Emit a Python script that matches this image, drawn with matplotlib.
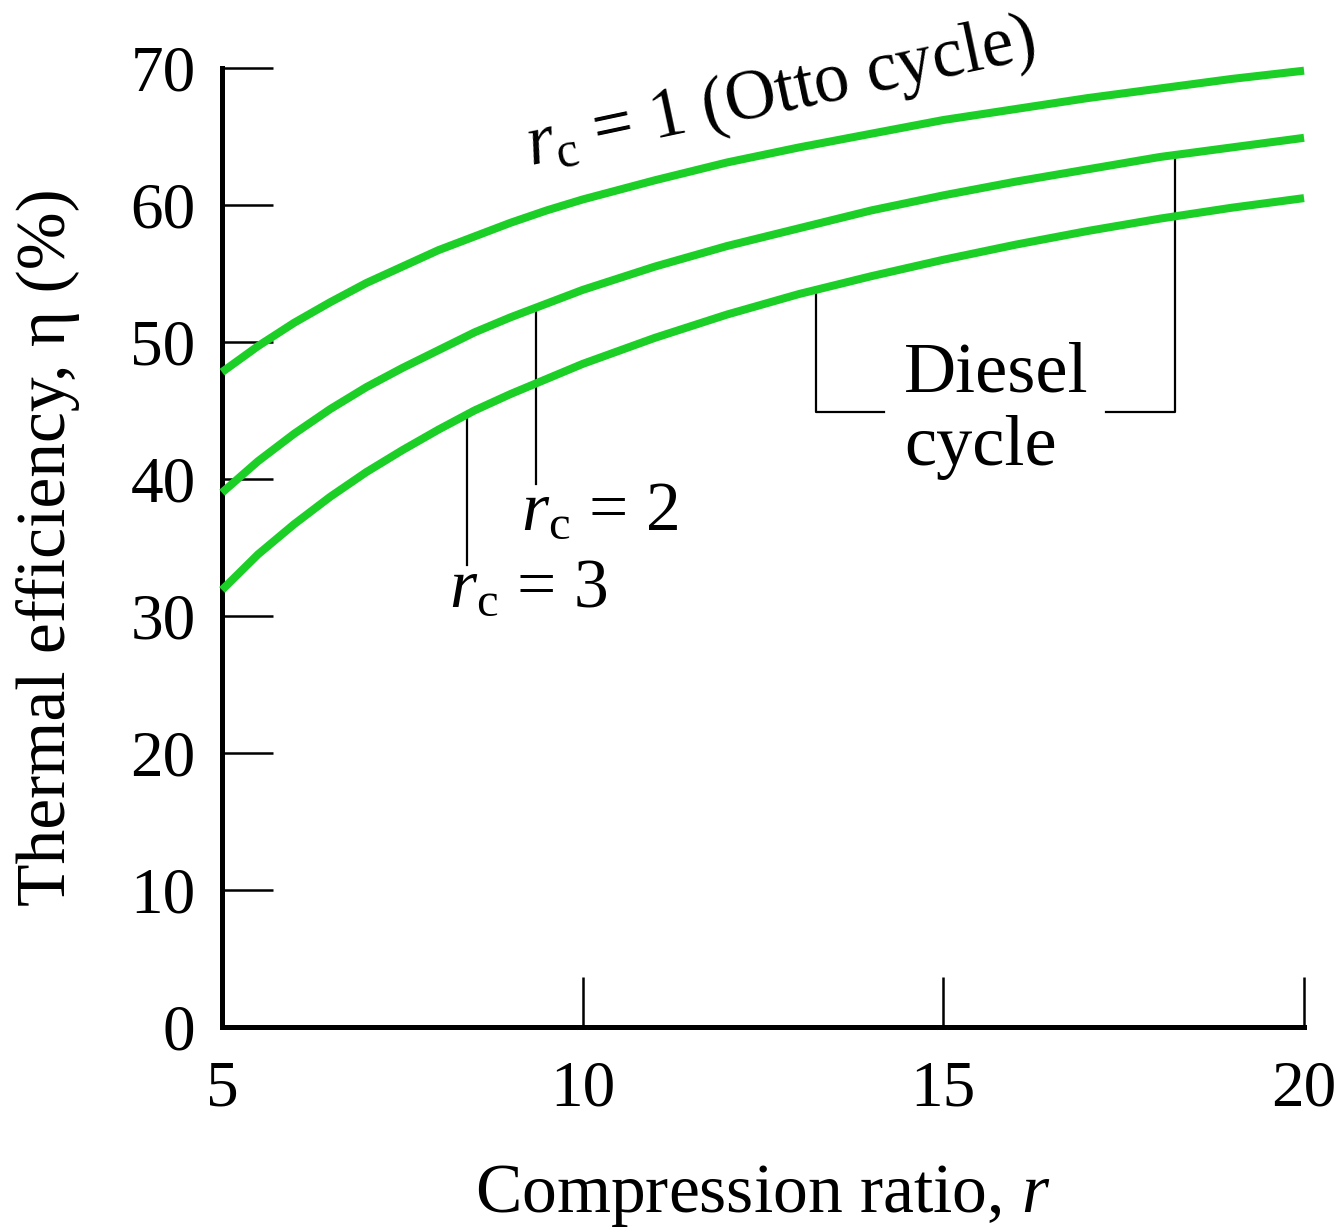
import matplotlib
matplotlib.use("Agg")
import matplotlib.pyplot as plt

plt.rcParams['font.family'] = ['Liberation Serif', 'DejaVu Serif']
plt.rcParams['mathtext.fontset'] = 'custom'
plt.rcParams['mathtext.rm'] = 'Liberation Serif'
plt.rcParams['mathtext.it'] = 'Liberation Serif:italic'

# Data
r = [5, 5.5, 6, 6.5, 7, 7.5, 8, 8.5, 9, 9.5, 10, 11, 12, 13, 14, 15, 16, 17, 18, 19, 20]
eta_otto = [47.8, 49.7, 51.4, 52.9, 54.3, 55.5, 56.7, 57.7, 58.7, 59.6, 60.4,
            61.8, 63.1, 64.2, 65.2, 66.2, 67.0, 67.8, 68.5, 69.2, 69.8]
eta_rc2 = [39.0, 41.3, 43.3, 45.1, 46.7, 48.1, 49.4, 50.7, 51.8, 52.8, 53.8,
           55.5, 57.0, 58.3, 59.6, 60.7, 61.7, 62.6, 63.5, 64.2, 64.9]
eta_rc3 = [31.9, 34.5, 36.7, 38.7, 40.5, 42.1, 43.6, 45.0, 46.2, 47.3, 48.4,
           50.3, 52.0, 53.5, 54.8, 56.0, 57.1, 58.1, 59.0, 59.8, 60.5]
xticks = [5, 10, 15, 20]
yticks = [0, 10, 20, 30, 40, 50, 60, 70]

green = '#1ccf27'

fig = plt.figure(figsize=(13.43, 12.31), dpi=100)
ax = fig.add_axes([0.1653, 0.1657, 0.971 - 0.1653, 0.9448 - 0.1657])

for ys in (eta_otto, eta_rc2, eta_rc3):
    ax.plot(r, ys, color=green, lw=5.8, solid_capstyle='butt', solid_joinstyle='round',
            clip_on=False, zorder=3)

ax.set_xlim(5, 20)
ax.set_ylim(0, 70)
ax.set_xticks(xticks)
ax.set_yticks(yticks)
ax.spines['top'].set_visible(False)
ax.spines['right'].set_visible(False)
ax.spines['left'].set_linewidth(3.6)
ax.spines['bottom'].set_linewidth(3.6)
ax.tick_params(axis='y', direction='in', length=37, width=1.8, labelsize=47, pad=19)
ax.tick_params(axis='x', direction='in', length=36, width=1.8, labelsize=47, pad=24)

ax.set_xlabel('Compression ratio, $r$', fontsize=50, labelpad=31)
ax.set_ylabel('Thermal efficiency, η (%)', fontsize=50, labelpad=36)

# Otto label along the curve
ax.text(9.28, 62.9, r'$r_{\mathrm{c}}$ = 1 (Otto cycle)', fontsize=51, rotation=12,
        rotation_mode='anchor', ha='left', va='baseline')

# rc = 2 leader and label
ax.plot([9.35, 9.35], [52.5, 39.6], color='black', lw=1.6)
ax.text(9.14, 36.3, r'$r_{\mathrm{c}}$ = 2', fontsize=50, ha='left', va='baseline')

# rc = 3 leader and label
ax.plot([8.40, 8.40], [44.7, 33.7], color='black', lw=1.6)
ax.text(8.14, 30.7, r'$r_{\mathrm{c}}$ = 3', fontsize=50, ha='left', va='baseline')

# Diesel cycle bracket
ax.plot([13.24, 13.24, 14.18], [53.8, 44.9, 44.9], color='black', lw=1.6)
ax.plot([17.26, 18.21, 18.21], [44.9, 44.9, 63.6], color='black', lw=1.6)
ax.text(14.46, 46.35, 'Diesel', fontsize=52, ha='left', va='baseline')
ax.text(14.46, 41.0, 'cycle', fontsize=52, ha='left', va='baseline')

fig.savefig('out.png', dpi=100)
